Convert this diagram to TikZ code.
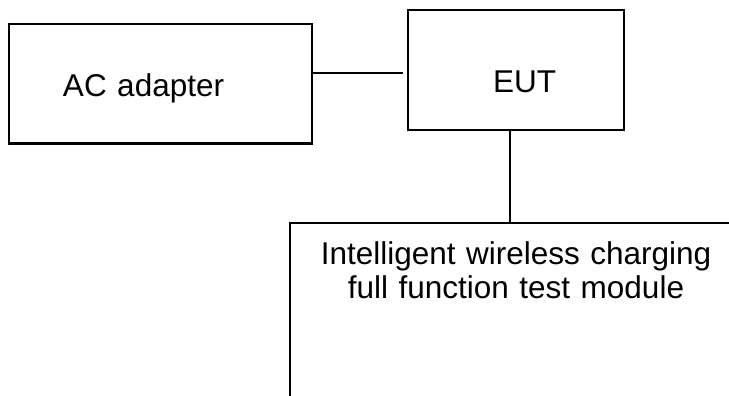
\documentclass[tikz,border=0pt]{standalone}
\usepackage{fontspec}
\setmainfont{Liberation Sans}
\usetikzlibrary{positioning}

\begin{document}
\begin{tikzpicture}[node distance=355.8pt, font=\fontsize{31.5}{34}\selectfont]

\useasboundingbox (-160.5pt,83.75pt) rectangle (568.5pt,-312.25pt);
\clip (-160.5pt,83.75pt) rectangle (568.5pt,-312.25pt);

\tikzstyle{adapter} = [rectangle, draw=black, line width=2.1pt, minimum width=302.4pt, minimum height=119.5pt, inner xsep=53.7pt, text width=195pt, align=left, text height=30pt, text depth=3.5pt]%, fill=red!30]
\tikzstyle{device} = [rectangle, draw=black, line width=1.8pt, minimum width=216pt, minimum height=120pt, inner xsep=68.3pt, text width=79.4pt, align=right, text height=45.4pt, text depth=0pt]%, fill=red!30]
\tikzstyle{tester} = [rectangle, draw=black, line width=1.8pt, inner sep=0pt, text width=452pt, align=center, text height=41.3pt, text depth=158.7pt]%, fill=red!30]

\tikzstyle{wire} = [line width=1.7pt]

\node (ac) [adapter] {AC adapter};
\node (eut) [device, right of = ac, yshift = 13.75pt] {EUT};
\node (mod) [tester, node distance = 253pt, below of = eut, xshift = -0.3pt] {Intelligent wireless charging\\ full function test module};

\draw [wire, shorten >=4.3pt] ([yshift=10.45pt]ac.east) -- ([yshift=10.45pt]ac.east -| eut.west);
\draw [wire] ([xshift=-6.3pt]eut.south) -- ([xshift=-6.3pt]eut.south |- mod.north);

\end{tikzpicture}
\end{document}
